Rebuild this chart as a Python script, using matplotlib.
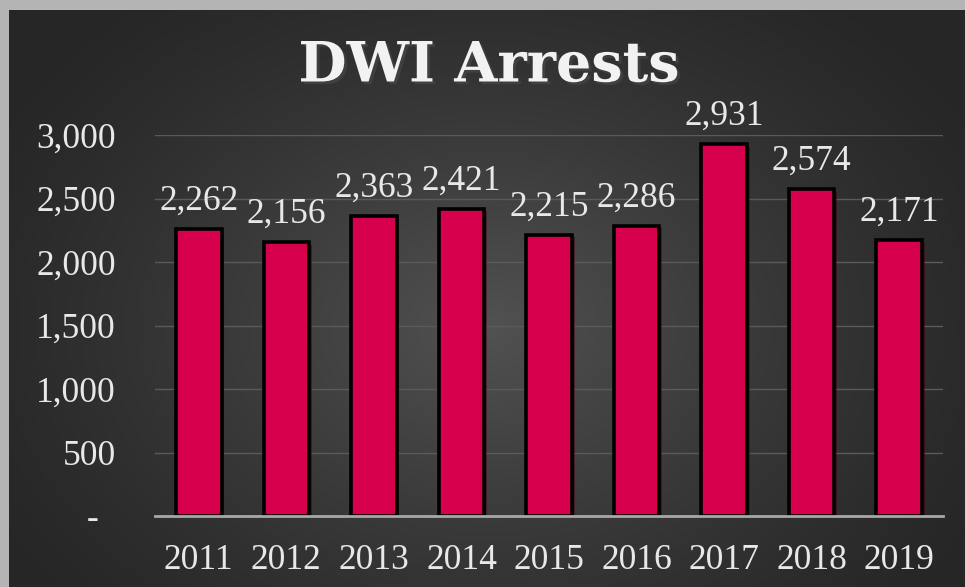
import matplotlib.pyplot as plt
import matplotlib.patheffects as pe
import numpy as np

# data
years = ['2011', '2012', '2013', '2014', '2015', '2016', '2017', '2018', '2019']
arrests = [2262, 2156, 2363, 2421, 2215, 2286, 2931, 2574, 2171]
y_ticks = [0, 500, 1000, 1500, 2000, 2500, 3000]
y_tick_labels = ['-  ', '500', '1,000', '1,500', '2,000', '2,500', '3,000']

W, H = 965, 587
fig = plt.figure(figsize=(W / 100, H / 100), dpi=100)
fig.patch.set_facecolor('#b4b4b4')

# dark panel with a soft radial highlight
bg = fig.add_axes([9 / W, 0, 1 - 9 / W, 1 - 10 / H])
gx, gy = np.meshgrid(np.linspace(0, 1, 400), np.linspace(0, 1, 250))
r = np.sqrt(((gx - 0.5) / 0.6) ** 2 + ((gy - 0.45) / 0.75) ** 2)
shade = np.clip(1 - r, 0, 1) ** 1.3
img = 0.15 + 0.17 * shade
bg.imshow(np.dstack([img, img, img]), aspect='auto', origin='lower',
          extent=[0, 1, 0, 1], interpolation='bicubic')
bg.axis('off')

serif = 'Liberation Serif'
txt_col = '#e8e8e8'
fs = 25.5

ax = fig.add_axes([155 / W, 1 - 516 / H, (943 - 155) / W, (516 - 135) / H])
ax.set_facecolor('none')
x = np.arange(len(years))
bars = ax.bar(x, arrests, width=0.52, color='#d6004c', edgecolor='black',
              linewidth=2.6, zorder=3)
for b in bars:
    b.set_path_effects([pe.SimplePatchShadow(offset=(2, -2), alpha=0.5), pe.Normal()])

for xi, v in zip(x, arrests):
    ax.annotate(f'{v:,}', (xi, v), xytext=(0, 8), textcoords='offset points',
                ha='center', va='bottom', fontsize=fs, family=serif,
                color=txt_col, annotation_clip=False)

ax.set_xlim(-0.5, len(years) - 0.5)
ax.set_ylim(0, 3000)
ax.set_yticks(y_ticks)
ax.set_yticklabels(y_tick_labels)
ax.set_xticks(x)
ax.set_xticklabels(years)
ax.tick_params(axis='both', length=0, labelsize=fs, labelcolor=txt_col)
ax.tick_params(axis='y', pad=28)
ax.tick_params(axis='x', pad=20)
for lab in ax.get_xticklabels() + ax.get_yticklabels():
    lab.set_family(serif)

ax.grid(axis='y', color='#5a5a5a', linewidth=1, zorder=0)
for s in ['top', 'right', 'left']:
    ax.spines[s].set_visible(False)
ax.spines['bottom'].set_color('#a8a8a8')
ax.spines['bottom'].set_linewidth(2)
ax.spines['bottom'].set_zorder(4)

fig.text(489 / W, 1 - 66 / H, 'DWI Arrests', ha='center', va='center',
         fontsize=40, fontweight='bold', family='DejaVu Serif', color='#f2f2f2',
         path_effects=[pe.withSimplePatchShadow(offset=(2, -2), alpha=0.6)])

fig.savefig('out.png', dpi=100, facecolor=fig.get_facecolor())
